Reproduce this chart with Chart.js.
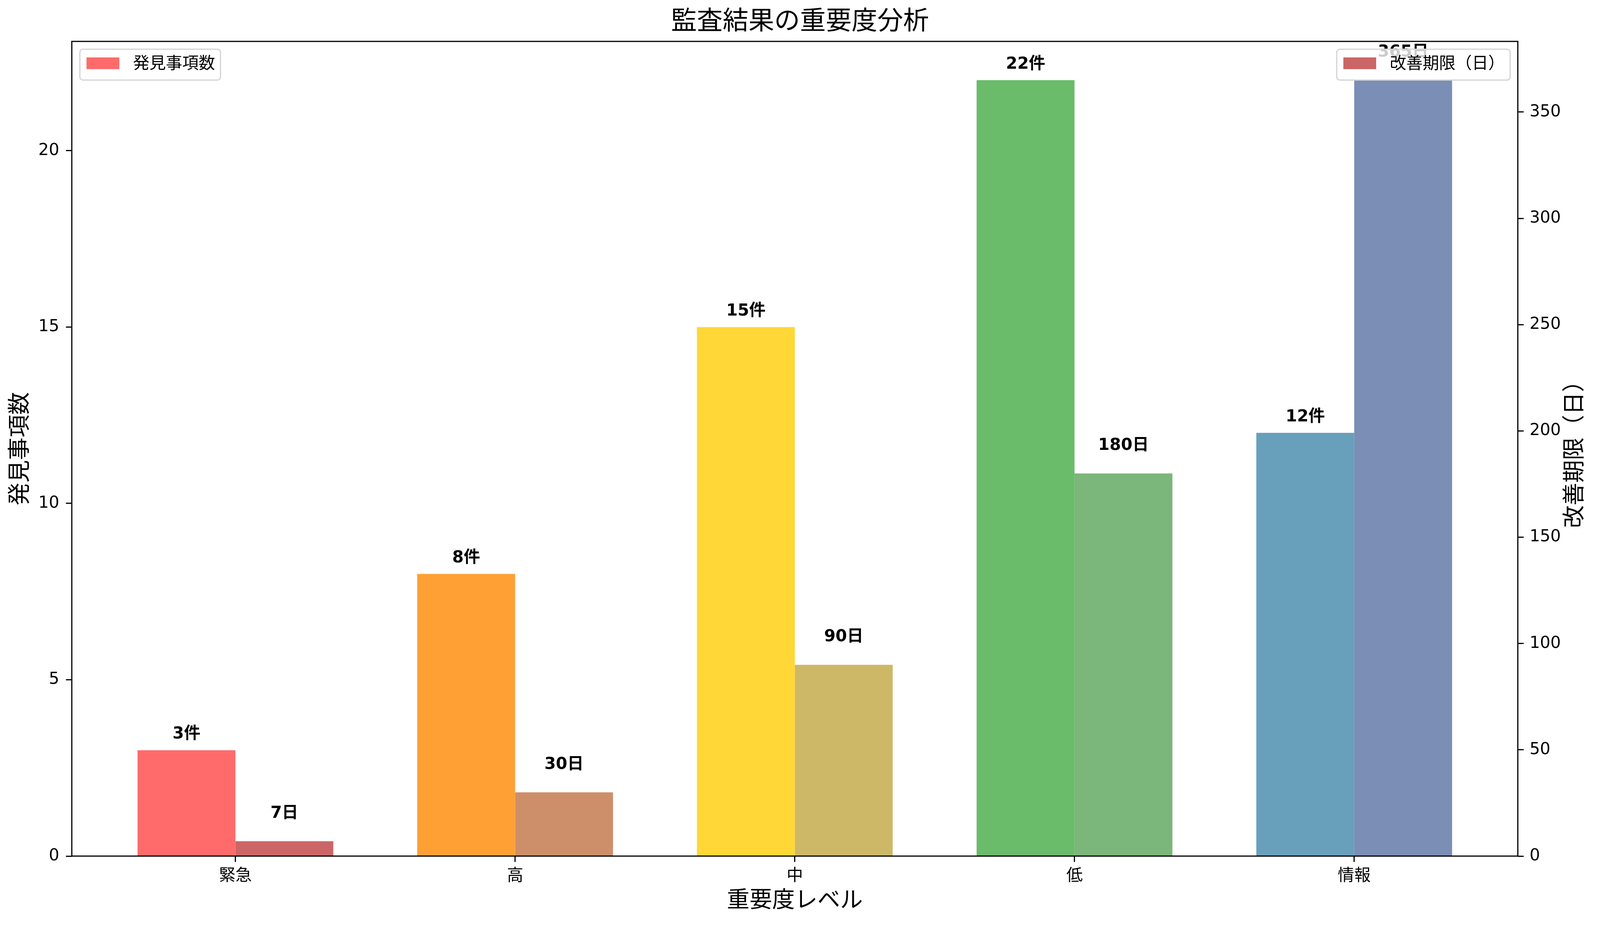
<!DOCTYPE html>
<html>
<head>
<meta charset="utf-8">
<script src="https://cdn.jsdelivr.net/npm/chart.js"></script>
<style>
    html, body { margin: 0; padding: 0; background: #fff; overflow: hidden; }
    #wrap { width: 100vw; height: 100vh; position: relative; }
</style>
</head>
<body>
<div id="wrap"><canvas id="auditChart"></canvas></div>
<script>
    // Chart data
    const categories = ['緊急', '高', '中', '低', '情報'];
    const findingCounts = [3, 8, 15, 22, 12];
    const deadlineDays = [7, 30, 90, 180, 365];
    const countTicks = [0, 5, 10, 15, 20];
    const dayTicks = [0, 50, 100, 150, 200, 250, 300, 350];

    const countColors = ['#FF6B6B', '#FFA035', '#FFD736', '#6ABB6A', '#68A0BB'];
    const dayColors = ['#CC6666', '#CD8F69', '#CDB868', '#7BB67B', '#7A8EB6'];

    const FONT = '"DejaVu Sans", "Noto Sans CJK JP", sans-serif';
    const REF_W = 4167; // layout was measured on a 4167px wide figure
    const sx = (chart) => chart.width / REF_W;

    // frame, value labels, right axis title and the two legends
    const overlayPlugin = {
        id: 'overlay',
        afterDatasetsDraw(chart) {
            const ctx = chart.ctx;
            const a = chart.chartArea;
            ctx.save();

            // value labels
            ctx.font = 'bold 42px ' + FONT;
            ctx.fillStyle = '#000';
            ctx.textAlign = 'center';
            ctx.textBaseline = 'alphabetic';
            const metaL = chart.getDatasetMeta(0);
            const metaR = chart.getDatasetMeta(1);
            findingCounts.forEach((v, i) => {
                const y = chart.scales.y.getPixelForValue(v + 0.33);
                ctx.fillText(v + '件', metaL.data[i].x, y);
            });
            deadlineDays.forEach((v, i) => {
                const y = chart.scales.y1.getPixelForValue(v + 11);
                ctx.fillText(v + '日', metaR.data[i].x, y);
            });

            // axes frame
            ctx.strokeStyle = '#000';
            ctx.lineWidth = 3;
            ctx.strokeRect(a.left, a.top, a.right - a.left, a.bottom - a.top);

            // right axis title, reading bottom to top like the left one
            ctx.translate(chart.width - 63 * sx(chart), (a.top + a.bottom) / 2);
            ctx.rotate(-Math.PI / 2);
            ctx.font = '58px ' + FONT;
            ctx.textAlign = 'center';
            ctx.textBaseline = 'middle';
            ctx.fillText('改善期限（日）', 0, 0);
            ctx.restore();
        },
        afterDraw(chart) {
            const ctx = chart.ctx;
            const a = chart.chartArea;
            ctx.save();
            ctx.font = '42px ' + FONT;
            const drawLegend = (text, color, x0, alignRight) => {
                const tw = ctx.measureText(text).width;
                const w = 17 + 84 + 35 + tw + 14;
                const h = 79;
                const left = alignRight ? x0 - w : x0;
                const top = a.top + 20;
                ctx.beginPath();
                ctx.roundRect(left, top, w, h, 8);
                ctx.fillStyle = 'rgba(255,255,255,0.8)';
                ctx.fill();
                ctx.strokeStyle = '#D3D3D3';
                ctx.lineWidth = 3;
                ctx.stroke();
                ctx.fillStyle = color;
                ctx.fillRect(left + 17, top + 21, 84, 30);
                ctx.fillStyle = '#000';
                ctx.textAlign = 'left';
                ctx.textBaseline = 'middle';
                ctx.fillText(text, left + 17 + 84 + 35, top + 39);
            };
            drawLegend(chart.data.datasets[0].label, countColors[0], a.left + 21 * sx(chart), false);
            drawLegend(chart.data.datasets[1].label, dayColors[0], a.right - 20 * sx(chart), true);
            ctx.restore();
        }
    };

    const tickGrid = {
        drawOnChartArea: false,
        drawTicks: true,
        tickLength: 15,
        tickWidth: 3,
        tickColor: '#000',
        offset: false
    };

    const ctx = document.getElementById('auditChart').getContext('2d');
    new Chart(ctx, {
        type: 'bar',
        data: {
            datasets: [{
                label: '発見事項数',
                data: findingCounts.map((v, i) => ({ x: i, y: v })),
                backgroundColor: countColors,
                borderWidth: 0,
                yAxisID: 'y'
            }, {
                label: '改善期限（日）',
                data: deadlineDays.map((v, i) => ({ x: i, y: v })),
                backgroundColor: dayColors,
                borderWidth: 0,
                yAxisID: 'y1'
            }]
        },
        options: {
            responsive: true,
            maintainAspectRatio: false,
            devicePixelRatio: 1,
            animation: false,
            categoryPercentage: 0.7,
            barPercentage: 1.0,
            layout: { padding: 0 },
            plugins: {
                legend: { display: false },
                tooltip: { enabled: false },
                title: {
                    display: true,
                    text: '監査結果の重要度分析',
                    color: '#000',
                    font: { family: FONT, size: 66, weight: 'normal', lineHeight: 1.2 },
                    padding: { top: 18, bottom: 8.8 }
                }
            },
            scales: {
                x: {
                    type: 'linear',
                    position: 'bottom',
                    min: -0.585,
                    max: categories.length - 1 + 0.585,
                    offset: false,
                    grid: tickGrid,
                    border: { display: false },
                    afterBuildTicks: (s) => { s.ticks = categories.map((c, i) => ({ value: i })); },
                    afterFit: (s) => { s.height = 179; },
                    ticks: {
                        autoSkip: false,
                        maxRotation: 0,
                        padding: 12,
                        color: '#000',
                        font: { family: FONT, size: 42 },
                        callback: (v) => categories[v]
                    },
                    title: {
                        display: true,
                        text: '重要度レベル',
                        color: '#000',
                        font: { family: FONT, size: 58, lineHeight: 1.2 },
                        padding: { top: 0, bottom: 28 }
                    }
                },
                y: {
                    type: 'linear',
                    position: 'left',
                    min: 0,
                    max: 23.1,
                    grid: tickGrid,
                    border: { display: false },
                    afterBuildTicks: (s) => { s.ticks = countTicks.map(v => ({ value: v })); },
                    afterFit: (s) => { s.width = 187 * sx(s.chart); },
                    ticks: {
                        padding: 17,
                        color: '#000',
                        font: { family: FONT, size: 42 }
                    },
                    title: {
                        display: true,
                        text: '発見事項数',
                        color: '#000',
                        font: { family: FONT, size: 58, lineHeight: 1.2 },
                        padding: { top: 19, bottom: 0 }
                    }
                },
                y1: {
                    type: 'linear',
                    position: 'right',
                    min: 0,
                    max: 383.25,
                    grid: tickGrid,
                    border: { display: false },
                    afterBuildTicks: (s) => { s.ticks = dayTicks.map(v => ({ value: v })); },
                    afterFit: (s) => { s.width = 214 * sx(s.chart); },
                    ticks: {
                        padding: 15,
                        color: '#000',
                        font: { family: FONT, size: 42 }
                    }
                }
            }
        },
        plugins: [overlayPlugin]
    });
</script>
</body>
</html>
